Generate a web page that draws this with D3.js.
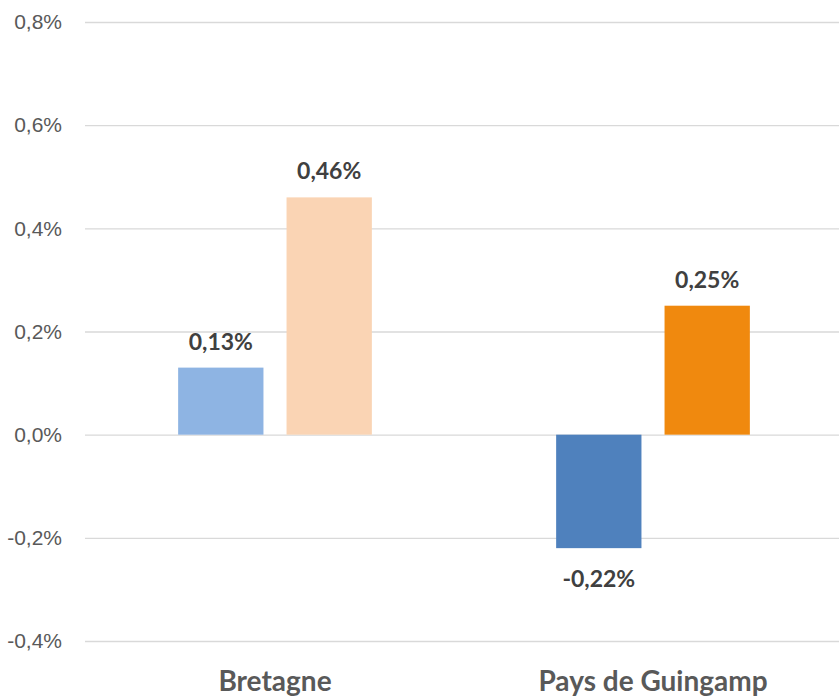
<!DOCTYPE html>
<html>
<head>
<meta charset="utf-8">
<script src="https://cdn.jsdelivr.net/npm/d3@7"></script>
<style>
  body { margin: 0; background: #fff; }
  svg { display: block; font-family: Lato, "Open Sans", sans-serif; }
</style>
</head>
<body>
<svg id="chart"></svg>
<script>
// data
var categories = ['Bretagne', 'Pays de Guingamp'];
var series = ['s1', 's2'];
var values1 = [0.13, -0.22];
var values2 = [0.46, 0.25];
var barColors1 = ['#8EB4E3', '#4F81BD'];
var barColors2 = ['#FAD4B4', '#F0890E'];
var yTicks = [-0.4, -0.2, 0, 0.2, 0.4, 0.6, 0.8];

var svgWidth = 839, svgHeight = 698;
var margin = { top: 22, right: 0, bottom: 57, left: 85 };

var svg = d3.select('#chart')
    .attr('width', svgWidth)
    .attr('height', svgHeight);

var y = d3.scaleLinear()
    .domain([-0.4, 0.8])
    .range([svgHeight - margin.bottom, margin.top]);

// categories sit slightly right of the plot centre in the original
var x0 = d3.scaleBand()
    .domain(categories)
    .range([margin.left + 1, svgWidth + 3])
    .padding(0);

var x1 = d3.scaleBand()
    .domain(series)
    .range([0, x0.bandwidth()])
    .paddingInner(0.213)
    .paddingOuter(0.85);

var fmt = function(v, digits) {
    return v.toFixed(digits).replace('.', ',') + '%';
};

// gridlines + tick labels
var yAxis = d3.axisLeft(y)
    .tickValues(yTicks)
    .tickSize(-(svgWidth - margin.left - margin.right))
    .tickPadding(23)
    .tickFormat(function(d) { return fmt(d, 1); });

var gy = svg.append('g')
    .attr('transform', 'translate(' + margin.left + ',0)')
    .call(yAxis);
gy.select('.domain').remove();
gy.selectAll('line').attr('stroke', '#d9d9d9').attr('stroke-width', 1.3);
gy.selectAll('text')
    .attr('fill', '#595959')
    .style('font-size', '21px');

// bars
var rows = categories.map(function(c, i) {
    return [
        { cat: c, key: 's1', value: values1[i], color: barColors1[i] },
        { cat: c, key: 's2', value: values2[i], color: barColors2[i] }
    ];
});
var flat = [].concat.apply([], rows);

var bars = svg.append('g');
bars.selectAll('rect')
    .data(flat)
    .enter()
    .append('rect')
    .attr('x', function(d) { return x0(d.cat) + x1(d.key); })
    .attr('width', x1.bandwidth())
    .attr('y', function(d) { return y(Math.max(0, d.value)); })
    .attr('height', function(d) { return Math.abs(y(d.value) - y(0)); })
    .attr('fill', function(d) { return d.color; });

// data labels
svg.append('g').selectAll('text')
    .data(flat)
    .enter()
    .append('text')
    .attr('x', function(d) { return x0(d.cat) + x1(d.key) + x1.bandwidth() / 2; })
    .attr('y', function(d) { return d.value >= 0 ? y(d.value) - 18 : y(d.value) + 39; })
    .attr('text-anchor', 'middle')
    .attr('fill', '#404040')
    .style('font-size', '23px')
    .style('font-weight', 'bold')
    .text(function(d) { return fmt(d.value, 2); });

// category labels
svg.append('g').selectAll('text')
    .data(categories)
    .enter()
    .append('text')
    .attr('x', function(d) { return x0(d) + x0.bandwidth() / 2; })
    .attr('y', 691)
    .attr('text-anchor', 'middle')
    .attr('fill', '#595959')
    .style('font-size', '28px')
    .style('font-weight', 'bold')
    .text(function(d) { return d; });
</script>
</body>
</html>
